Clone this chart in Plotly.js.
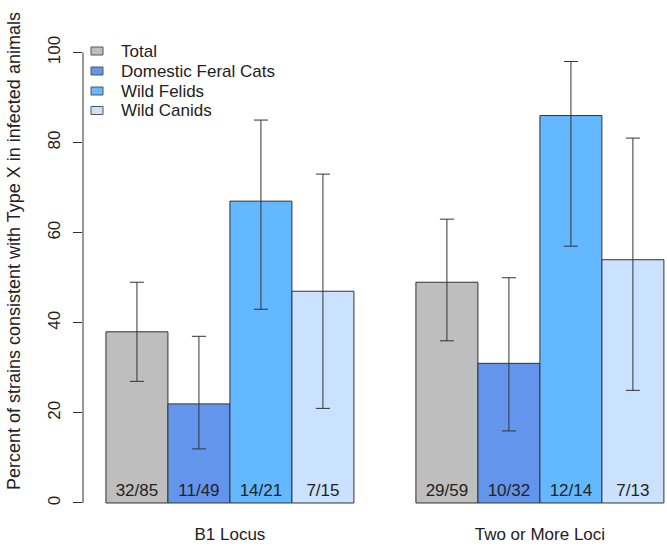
<!DOCTYPE html>
<html>
<head>
<meta charset="utf-8">
<script src="https://cdn.plot.ly/plotly-3.0.1.min.js"></script>
<style>html,body{margin:0;padding:0;background:#fff;}#chart{width:667px;height:546px;}</style>
</head>
<body>
<div id="chart"></div>
<script>
const groups = ["B1 Locus", "Two or More Loci"];
const seriesNames = ["Total", "Domestic Feral Cats", "Wild Felids", "Wild Canids"];
const seriesColors = ["#BEBEBE", "#6495ED", "#63B8FF", "#CAE1FF"];

const totalPct = [38, 49];
const domesticPct = [22, 31];
const felidsPct = [67, 86];
const canidsPct = [47, 54];

const totalLo = [27, 36];
const totalHi = [49, 63];
const domesticLo = [12, 16];
const domesticHi = [37, 50];
const felidsLo = [43, 57];
const felidsHi = [85, 98];
const canidsLo = [21, 25];
const canidsHi = [73, 81];

const totalCounts = ["32/85", "29/59"];
const domesticCounts = ["11/49", "10/32"];
const felidsCounts = ["14/21", "12/14"];
const canidsCounts = ["7/15", "7/13"];

const yTicks = [0, 20, 40, 60, 80, 100];
const yTitle = "Percent of strains consistent with Type X in infected animals";

const FONT = "Liberation Sans, Arial, Helvetica, sans-serif";
const INK = "#222222";

const W = 667, H = 546;
const M = {l: 83, r: 0, t: 0, b: 24};
const plotW = W - M.l - M.r, plotH = H - M.t - M.b;
const px2x = p => (p - M.l) / plotW;
const px2y = p => (H - M.b - p) / plotH;

const values = [totalPct, domesticPct, felidsPct, canidsPct];
const los = [totalLo, domesticLo, felidsLo, canidsLo];
const his = [totalHi, domesticHi, felidsHi, canidsHi];
const counts = [totalCounts, domesticCounts, felidsCounts, canidsCounts];

const traces = seriesNames.map((name, i) => ({
  type: "bar",
  name: name,
  x: groups,
  y: values[i],
  text: counts[i],
  textposition: "inside",
  insidetextanchor: "start",
  textangle: 0,
  constraintext: "none",
  insidetextfont: {family: FONT, size: 17, color: INK},
  hoverinfo: "skip",
  showlegend: false,
  marker: {color: seriesColors[i], line: {color: "#333333", width: 1}},
  error_y: {
    type: "data",
    symmetric: false,
    array: values[i].map((v, k) => his[i][k] - v),
    arrayminus: values[i].map((v, k) => v - los[i][k]),
    color: "#333333",
    thickness: 1,
    width: 7
  }
}));

// Legend (drawn manually to match R's compact legend)
const legendRowY = [51, 71, 91, 110.5];
const legendShapes = seriesNames.map((n, i) => ({
  type: "rect", xref: "paper", yref: "paper",
  x0: px2x(91), x1: px2x(103),
  y0: px2y(legendRowY[i] + 4), y1: px2y(legendRowY[i] - 4),
  fillcolor: seriesColors[i],
  line: {color: "#555555", width: 1}
}));
const legendTexts = seriesNames.map((n, i) => ({
  text: n, xref: "paper", yref: "paper",
  x: px2x(119), y: px2y(legendRowY[i]),
  xanchor: "left", yanchor: "middle",
  showarrow: false,
  font: {family: FONT, size: 17, color: INK}
}));

const layout = {
  width: W,
  height: H,
  margin: M,
  paper_bgcolor: "#ffffff",
  plot_bgcolor: "#ffffff",
  font: {family: FONT, size: 17, color: INK},
  barmode: "group",
  bargap: 0.2,
  bargroupgap: 0,
  showlegend: false,
  xaxis: {
    type: "category",
    range: [-0.474, 1.41],
    showline: false, showgrid: false, zeroline: false,
    ticks: "",
    tickfont: {family: FONT, size: 17, color: INK},
    fixedrange: true
  },
  yaxis: {
    range: [-4.22, 111.65],
    tickvals: yTicks,
    ticktext: yTicks.map(String),
    ticks: "outside",
    ticklen: 9,
    tickwidth: 1,
    tickcolor: "#333333",
    tickangle: -90,
    ticklabelstandoff: 6,
    tickfont: {family: FONT, size: 17, color: INK},
    showline: false, showgrid: false, zeroline: false,
    fixedrange: true
  },
  shapes: [{
    type: "line", xref: "paper", yref: "y",
    x0: 0, x1: 0, y0: yTicks[0], y1: yTicks[yTicks.length - 1],
    line: {color: "#333333", width: 1}
  }].concat(legendShapes),
  annotations: [{
    text: yTitle,
    xref: "paper", yref: "paper",
    x: px2x(14), y: px2y(251),
    xanchor: "center", yanchor: "middle",
    textangle: -90,
    showarrow: false,
    font: {family: FONT, size: 18, color: INK}
  }].concat(legendTexts)
};

Plotly.newPlot("chart", traces, layout, {staticPlot: true, displayModeBar: false});
</script>
</body>
</html>
